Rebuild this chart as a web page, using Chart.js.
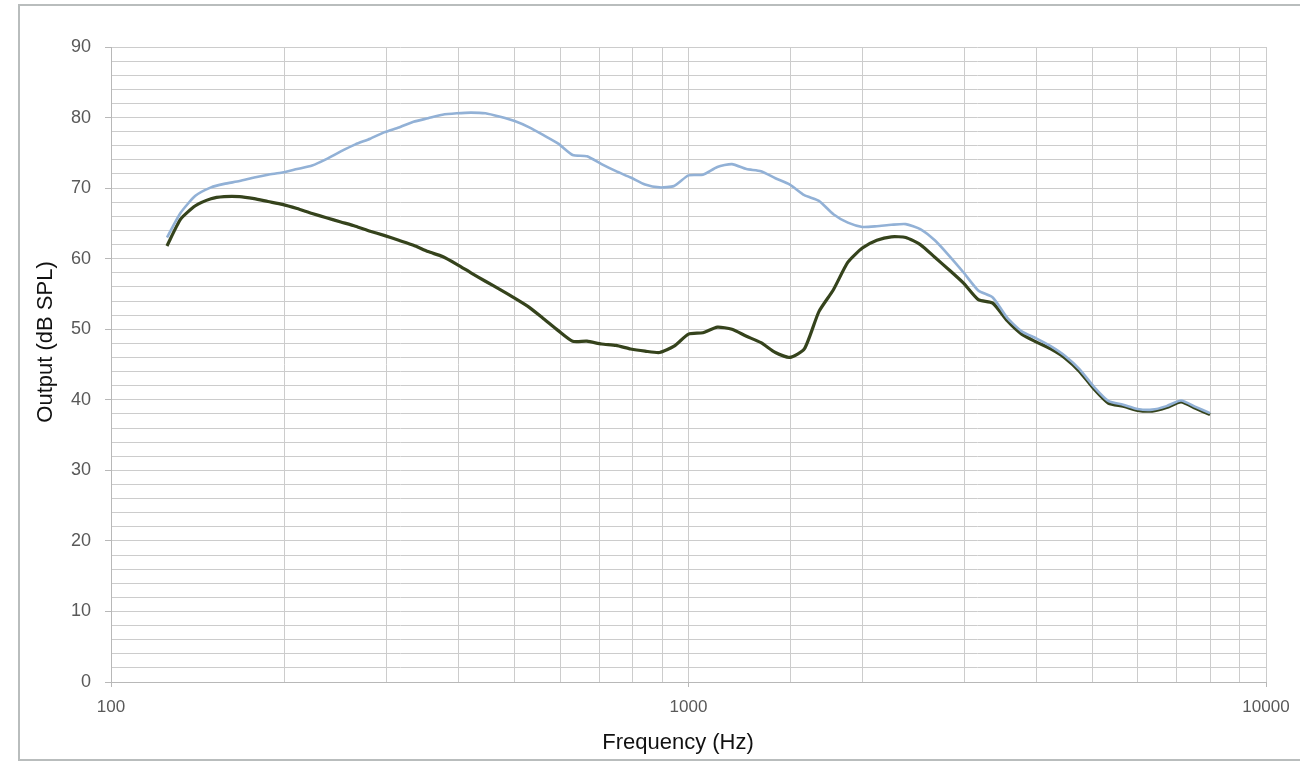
<!DOCTYPE html>
<html>
<head>
<meta charset="utf-8">
<script src="https://cdn.jsdelivr.net/npm/chart.js@4.4.0/dist/chart.umd.min.js"></script>
<style>
  html, body { margin: 0; padding: 0; background: #ffffff; }
  #wrap { position: relative; width: 1300px; height: 763px; }
  canvas { display: block; }
</style>
</head>
<body>
<div id="wrap"><canvas id="c" width="1300" height="763"></canvas></div>
<script>
// ---- data ----
const frequencies = [125, 132, 140, 149, 157, 167, 177, 187, 198, 210, 223, 236,
  250, 265, 281, 297, 315, 334, 354, 375, 397, 420, 445, 472,
  500, 530, 561, 595, 630, 667, 707, 749, 794, 841, 891, 944,
  1000, 1059, 1122, 1189, 1260, 1335, 1414, 1498, 1587, 1682, 1782, 1888,
  2000, 2119, 2245, 2378, 2520, 2670, 2828, 2997, 3175, 3364, 3564, 3775,
  4000, 4238, 4490, 4757, 5040, 5339, 5657, 5993, 6350, 6727, 7127, 7551, 8000];

const blueOutput = [63.0, 66.5, 68.9, 70.1, 70.6, 71.0, 71.5, 71.9, 72.2, 72.7, 73.2, 74.1,
  75.2, 76.2, 77.0, 77.9, 78.6, 79.4, 79.9, 80.4, 80.6, 80.7, 80.6, 80.1,
  79.5, 78.6, 77.5, 76.3, 74.7, 74.5, 73.4, 72.4, 71.5, 70.5, 70.1, 70.3,
  71.8, 71.9, 73.0, 73.4, 72.7, 72.4, 71.4, 70.5, 69.0, 68.2, 66.3, 65.1,
  64.5, 64.6, 64.8, 64.9, 64.2, 62.6, 60.4, 58.0, 55.5, 54.5, 51.6, 49.7,
  48.7, 47.6, 46.2, 44.3, 41.8, 39.8, 39.3, 38.7, 38.6, 39.1, 39.9, 39.0, 38.1];

const greenOutput = [61.8, 65.6, 67.5, 68.5, 68.8, 68.8, 68.5, 68.1, 67.7, 67.1, 66.4, 65.8,
  65.2, 64.6, 63.9, 63.3, 62.6, 61.9, 61.0, 60.3, 59.2, 58.0, 56.8, 55.6,
  54.4, 53.1, 51.5, 49.8, 48.3, 48.3, 47.9, 47.7, 47.2, 46.9, 46.7, 47.6,
  49.3, 49.5, 50.3, 50.0, 49.0, 48.1, 46.7, 46.0, 47.2, 52.5, 55.6, 59.5,
  61.5, 62.6, 63.1, 63.0, 62.0, 60.2, 58.4, 56.5, 54.2, 53.7, 51.2, 49.3,
  48.2, 47.2, 45.9, 44.0, 41.5, 39.5, 39.1, 38.5, 38.4, 38.9, 39.7, 38.8, 37.9];

const xLabeled = [100, 1000, 10000];
const yLabelStep = 10;
const xTitle = 'Frequency (Hz)';
const yTitle = 'Output (dB SPL)';

// ---- chart ----
const toPoints = (ys) => frequencies.map((f, i) => ({ x: f, y: ys[i] }));

const frame = {
  id: 'frame',
  beforeDraw(chart) {
    const c = chart.ctx;
    c.save();
    c.fillStyle = '#ffffff';
    c.fillRect(0, 0, chart.width, chart.height);
    c.strokeStyle = '#b9bdbd';
    c.lineWidth = 2;
    c.strokeRect(19, 5, 1320, 755);
    c.restore();
  },
  afterDraw(chart) {
    const c = chart.ctx;
    c.save();
    c.fillStyle = '#111111';
    c.font = '22px "Liberation Sans", Arial, sans-serif';
    c.textAlign = 'center';
    c.textBaseline = 'middle';
    c.fillText(xTitle, 678, 743);
    c.translate(46, 342);
    c.rotate(-Math.PI / 2);
    c.fillText(yTitle, 0, 0);
    c.restore();
  }
};

new Chart(document.getElementById('c'), {
  type: 'scatter',
  data: {
    datasets: [
      {
        label: 'Unaided',
        data: toPoints(blueOutput),
        showLine: true,
        borderColor: '#92b1d6',
        borderWidth: 2.6,
        pointRadius: 0,
        tension: 0.2,
        fill: false
      },
      {
        label: 'Aided',
        data: toPoints(greenOutput),
        showLine: true,
        borderColor: '#35431c',
        borderWidth: 3.2,
        pointRadius: 0,
        tension: 0.2,
        fill: false
      }
    ]
  },
  plugins: [frame],
  options: {
    responsive: false,
    animation: false,
    events: [],
    layout: { padding: { top: 47, right: 34, bottom: 0, left: 0 } },
    plugins: { legend: { display: false }, tooltip: { enabled: false } },
    scales: {
      x: {
        type: 'logarithmic',
        min: 100,
        max: 10000,
        afterFit(s) { s.height = 81; },
        border: { color: '#b8b8b8', width: 1 },
        grid: {
          color: '#cccccc',
          lineWidth: 1,
          tickLength: 5,
          tickColor: (ctx) => (ctx.tick && xLabeled.includes(ctx.tick.value)) ? '#b8b8b8' : 'rgba(0,0,0,0)'
        },
        ticks: {
          autoSkip: false,
          maxRotation: 0,
          padding: 10,
          color: '#595959',
          font: { family: '"Liberation Sans", Arial, sans-serif', size: 17 },
          callback: (v) => xLabeled.includes(v) ? String(v) : ''
        }
      },
      y: {
        min: 0,
        max: 90,
        afterFit(s) { s.width = 111; },
        border: { color: '#b8b8b8', width: 1 },
        grid: {
          color: '#cccccc',
          lineWidth: 1,
          tickLength: 6,
          tickColor: (ctx) => (ctx.tick && ctx.tick.value % yLabelStep === 0) ? '#b8b8b8' : 'rgba(0,0,0,0)'
        },
        ticks: {
          stepSize: 2,
          autoSkip: false,
          padding: 14,
          color: '#595959',
          font: { family: '"Liberation Sans", Arial, sans-serif', size: 18 },
          callback: (v) => v % yLabelStep === 0 ? String(v) : ''
        }
      }
    }
  }
});
</script>
</body>
</html>
